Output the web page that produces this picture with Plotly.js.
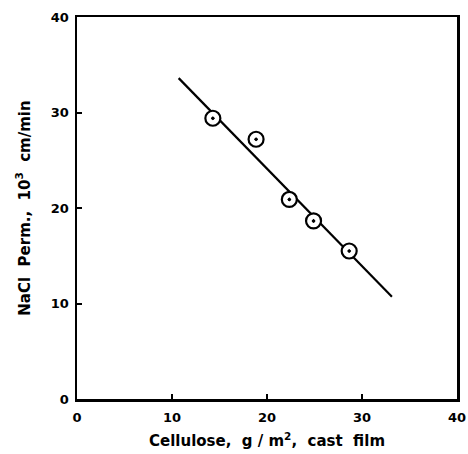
<!DOCTYPE html>
<html>
<head>
<meta charset="utf-8">
<script src="https://cdn.plot.ly/plotly-3.0.1.min.js"></script>
<style>html,body{margin:0;padding:0;background:#fff;}#chart{width:468px;height:454px;}</style>
</head>
<body>
<div id="chart"></div>
<script>
// Measured points
const cellulose = [14.3, 18.85, 22.35, 24.9, 28.65];
const naclPerm = [29.4, 27.2, 20.9, 18.65, 15.5];
// Drawn fit line end points
const fitX = [10.7, 33.15];
const fitY = [33.6, 10.7];
const tickVals = [0, 10, 20, 30, 40];
const tickText = ['0', '10', '20', '30', '40'];

const fontFam = 'DejaVu Sans, Arial, sans-serif';
const traces = [
  {x: fitX, y: fitY, mode: 'lines', line: {color: '#000', width: 2.2}, hoverinfo: 'skip', showlegend: false},
  {x: cellulose, y: naclPerm, mode: 'markers',
   marker: {symbol: 'circle-dot', size: 15, color: '#fff', line: {color: '#000', width: 2.2}},
   showlegend: false},
  {x: cellulose, y: naclPerm, mode: 'markers',
   marker: {symbol: 'circle', size: 3, color: '#000'}, showlegend: false, hoverinfo: 'skip'}
];
const axisCommon = {
  range: [0, 40], tickvals: tickVals, ticktext: tickText,
  showgrid: false, zeroline: false, showline: true, mirror: true,
  linecolor: '#000', linewidth: 2.5, ticks: 'inside', ticklen: 5, tickwidth: 2, tickcolor: '#000',
  tickfont: {family: fontFam, size: 13, color: '#000', weight: 'bold'}
};
const layout = {
  width: 468, height: 454,
  margin: {l: 77, r: 11, t: 17, b: 55},
  paper_bgcolor: '#fff', plot_bgcolor: '#fff',
  font: {family: fontFam, color: '#000'},
  xaxis: Object.assign({}, axisCommon, {
    ticklabelstandoff: 5,
    title: {text: 'Cellulose,  g / m<sup>2</sup>,  cast  film', font: {family: fontFam, size: 15, color: '#000', weight: 'bold'}, standoff: 12}
  }),
  yaxis: Object.assign({}, axisCommon, {
    ticklabelstandoff: 3,
    title: {text: 'NaCl  Perm.,  10<sup>3</sup>  cm/min', font: {family: fontFam, size: 15, color: '#000', weight: 'bold'}, standoff: 17}
  })
};
Plotly.newPlot('chart', traces, layout, {displayModeBar: false, staticPlot: true});
</script>
</body>
</html>
